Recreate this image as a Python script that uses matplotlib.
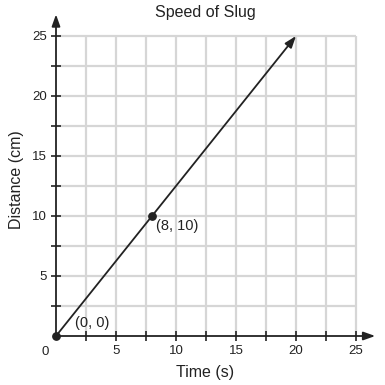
import numpy as np
import matplotlib.pyplot as plt

plt.rcParams['font.family'] = ['Liberation Sans', 'DejaVu Sans']

# data
line_x = [0, 20]
line_y = [0, 25]
points_x = [0, 8]
points_y = [0, 10]
point_labels = ['(0, 0)', '(8, 10)']
ticks = [5, 10, 15, 20, 25]
grid_pos = np.arange(2.5, 25.1, 2.5)

fig = plt.figure(figsize=(3.85, 3.85), dpi=100)
ax = fig.add_axes([56 / 385, 49 / 385, 324 / 385, 324 / 385])
ax.set_xlim(0, 27)
ax.set_ylim(0, 27)
for s in ax.spines.values():
    s.set_visible(False)

# grid
ax.vlines(grid_pos, 0, 25, color='#d6d6d6', lw=1.6, zorder=1)
ax.hlines(grid_pos, 0, 25, color='#d6d6d6', lw=1.6, zorder=1)

# axes with arrows
arr = dict(arrowstyle='-|>,head_length=0.7,head_width=0.25', color='#222222', lw=1.3, shrinkA=0, shrinkB=0)
ax.annotate('', xy=(26.6, 0), xytext=(0, 0), arrowprops=arr, annotation_clip=False, zorder=3)
ax.annotate('', xy=(0, 26.8), xytext=(0, 0), arrowprops=arr, annotation_clip=False, zorder=3)

# ticks
ax.set_xticks(grid_pos)
ax.set_yticks(grid_pos)
ax.set_xticklabels([str(int(v)) if v in ticks else '' for v in grid_pos])
ax.set_yticklabels([str(int(v)) if v in ticks else '' for v in grid_pos])
ax.tick_params(direction='inout', length=7, width=1.2, color='#222222',
               labelsize=9.5, labelcolor='#222222', pad=3)
ax.text(-0.9, -1.3, '0', ha='center', va='center', fontsize=9.5, color='#222222')

# line with arrow
ax.annotate('', xy=(line_x[1], line_y[1]), xytext=(line_x[0], line_y[0]),
            arrowprops=dict(arrowstyle='-|>,head_length=0.7,head_width=0.25',
                            color='#222222', lw=1.3, shrinkA=0, shrinkB=0), zorder=4)
ax.scatter(points_x, points_y, s=28, color='#222222', zorder=5, clip_on=False)
ax.text(1.6, 1.1, point_labels[0], ha='left', va='center', fontsize=10.5, color='#222222')
ax.text(8.3, 9.2, point_labels[1], ha='left', va='center', fontsize=10.5, color='#222222')

fig.text(205 / 385, 1 - 12 / 385, 'Speed of Slug', ha='center', va='center', fontsize=11.5, color='#222222')
fig.text(205 / 385, 1 - 373 / 385, 'Time (s)', ha='center', va='center', fontsize=11.5, color='#222222')
fig.text(17 / 385, 1 - 180 / 385, 'Distance (cm)', ha='center', va='center', fontsize=11.5,
         rotation=90, color='#222222')

fig.savefig('out.png', dpi=100)
